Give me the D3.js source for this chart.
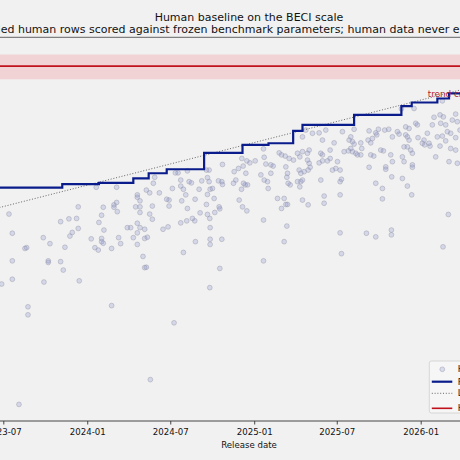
<!DOCTYPE html>
<html>
<head>
<meta charset="utf-8">
<script src="https://cdn.jsdelivr.net/npm/d3@7"></script>
<style>
  body { margin: 0; background: #f1f1f1; }
  svg { display: block; font-family: "DejaVu Sans", sans-serif; }
</style>
</head>
<body>
<svg class="chart" width="460" height="460"></svg>
<script>
// human rows: release date (decimal year) and BECI score
var humanYear = [
  2023.486,2023.530,2023.550,2023.550,2023.550,2023.590,2023.626,2023.636,2023.644,2023.644,
  2023.736,2023.740,2023.766,2023.766,2023.776,2023.840,2023.840,2023.856,2023.866,2023.890,
  2023.896,2023.910,2023.936,2023.946,2023.946,2023.952,2024.024,2024.046,2024.054,2024.066,
  2024.070,2024.086,2024.086,2024.086,2024.096,2024.096,2024.100,2024.146,2024.146,2024.160,
  2024.160,2024.176,2024.176,2024.180,2024.188,2024.200,2024.240,2024.260,2024.276,2024.290,
  2024.300,2024.300,2024.300,2024.300,2024.300,2024.316,2024.316,2024.316,2024.316,2024.334,
  2024.344,2024.344,2024.344,2024.354,2024.354,2024.360,2024.374,2024.374,2024.378,2024.390,
  2024.390,2024.396,2024.404,2024.432,
  2024.476,2024.490,2024.490,2024.510,2024.528,2024.544,2024.560,2024.560,2024.566,2024.576,
  2024.590,2024.600,2024.600,2024.610,2024.624,2024.630,2024.644,2024.646,2024.670,2024.676,
  2024.686,2024.714,2024.714,2024.720,2024.720,2024.720,2024.730,2024.730,2024.734,2024.736,
  2024.736,2024.750,2024.760,2024.764,2024.786,2024.790,2024.794,2024.806,2024.810,2024.810,
  2024.560,2024.596,2024.484,2024.454,2024.648,2024.736,2024.736,2024.806,2024.576,2024.794,
  2024.734,2024.520,
  2024.876,2024.880,2024.890,2024.906,2024.910,2024.924,2024.926,2024.930,2024.934,2024.936,
  2024.946,2024.950,2024.956,2024.956,2024.960,2024.974,2025.006,2025.040,2025.056,2025.056,
  2025.056,2025.060,2025.060,2025.070,2025.080,2025.084,2025.100,2025.100,2025.114,2025.140,
  2025.150,2025.164,2025.164,2025.180,2025.180,2025.186,2025.190,2025.190,2025.196,2025.196,
  2025.200,2025.200,2025.204,2025.210,2025.216,2025.236,2025.260,2025.260,2025.270,2025.274,
  2025.274,2025.280,2025.280,
  2025.290,2025.290,2025.290,2025.290,2025.300,2025.310,2025.320,2025.320,2025.324,2025.324,
  2025.330,2025.330,2025.336,2025.350,2025.390,2025.390,2025.400,2025.400,2025.410,2025.410,
  2025.410,2025.420,2025.420,2025.430,2025.440,2025.456,2025.456,2025.470,2025.480,2025.490,
  2025.500,2025.516,2025.516,2025.516,2025.516,2025.524,2025.524,2025.530,2025.540,2025.566,
  2025.570,2025.580,2025.580,2025.590,2025.590,2025.600,2025.600,2025.610,2025.620,2025.640,
  2025.640,2025.646,2025.674,2025.684,2025.690,2025.690,2025.700,2025.700,2025.710,2025.718,
  2025.730,2025.730,2025.730,2025.736,2025.746,
  2025.760,2025.776,2025.770,2025.770,2025.784,2025.808,2025.790,2025.790,2025.820,2025.824,
  2025.824,2025.826,2025.830,2025.830,2025.860,2025.870,2025.884,2025.890,2025.890,2025.900,
  2025.900,2025.910,2025.910,2025.920,2025.920,2025.920,2025.930,2025.930,2025.940,2025.946,
  2025.950,2025.950,2025.950,2025.960,2025.970,2025.980,2025.984,2026.010,2026.020,2026.024,
  2026.040,2026.050,2026.056,2026.070,2026.080,2026.090,2026.100,2026.116,2026.116,2026.120,
  2026.130,2026.130,2026.134,2026.136,2026.150,2026.150,2026.160,2026.166,2026.170,2026.180,
  2026.180,2026.190,2026.210,2026.210,2026.210,2026.220,2026.220,2026.236
];
var humanScore = [
  45.5,63.0,58.2,51.3,46.7,15.4,54.4,54.6,39.8,37.8,
  57.1,46.0,51.3,50.9,55.6,61.1,51.1,49.0,54.7,61.8,
  57.5,58.4,61.9,64.8,59.4,46.3,56.8,54.6,69.7,54.0,
  60.9,62.7,56.9,56.1,64.7,55.7,59.0,54.4,40.1,65.3,
  64.7,69.7,65.9,63.6,57.1,55.6,59.6,59.6,57.1,64.8,
  67.8,67.2,60.7,58.3,55.4,66.3,64.8,63.4,59.6,52.4,
  59.2,56.9,49.6,49.7,69.0,57.2,68.3,63.0,21.6,65.0,
  61.7,70.7,72.2,68.3,
  66.7,66.5,65.0,69.4,73.3,73.3,71.5,70.0,66.3,69.2,
  67.8,73.8,64.4,71.1,70.8,61.9,61.3,66.7,69.2,63.3,
  71.3,74.0,65.4,72.1,67.9,62.9,74.0,71.1,61.9,69.2,
  59.6,69.4,66.9,63.4,71.3,64.8,64.3,71.1,75.4,70.4,
  60.8,61.3,59.8,59.2,56.1,56.7,55.4,56.7,53.4,49.4,
  44.6,35.8,
  70.7,73.6,71.5,74.4,66.5,69.2,76.9,64.8,75.0,70.7,
  70.3,73.2,76.3,63.8,70.3,75.8,76.3,72.8,79.3,61.5,
  51.3,77.2,71.5,75.5,71.1,69.4,75.3,73.2,75.0,66.9,
  78.3,77.8,64.4,66.9,56.1,77.5,74.8,65.4,72.2,60.0,
  73.2,65.4,70.7,76.9,70.3,76.5,78.2,71.1,74.0,77.3,
  69.8,71.1,73.2,
  82.3,78.6,71.5,66.5,73.6,84.0,78.2,76.5,74.0,65.3,
  79.0,75.7,74.7,83.2,83.3,75.8,78.2,71.5,81.5,77.8,
  76.3,67.5,65.7,84.0,76.3,79.0,76.9,74.0,80.8,74.4,
  76.1,74.0,71.1,67.8,58.3,71.7,53.1,83.6,78.6,78.8,
  81.5,82.3,79.4,81.1,78.6,80.5,84.2,78.2,77.8,80.8,
  77.8,79.4,58.2,81.5,83.8,74.7,80.8,77.8,81.9,77.5,
  83.3,70.7,57.3,82.8,84.2,
  79.0,78.8,69.4,66.8,84.0,84.2,74.8,74.2,77.8,59.0,
  57.8,72.3,82.3,76.1,83.6,83.0,89.3,77.3,71.9,79.8,
  76.1,84.8,82.8,82.3,79.8,70.0,84.4,81.5,79.0,67.8,
  78.2,75.3,74.7,89.4,85.7,85.3,82.1,80.7,81.5,80.3,
  83.2,80.7,80.0,85.3,87.2,77.3,82.3,87.8,80.0,85.7,
  91.3,82.5,54.8,87.3,85.3,81.3,83.6,62.9,76.1,83.2,
  79.4,86.5,82.1,79.0,88.0,86.1,75.7,84.0
];

// frontier (best score to date), step after each date
var frontierYear  = [2023.30,2023.850,2024.070,2024.276,2024.368,2024.476,2024.700,2024.930,
                     2025.086,2025.234,2025.290,2025.600,2025.884,2025.946,2026.100,2026.170,2026.350];
var frontierScore = [69.6,70.5,70.8,71.9,73.2,74.2,78.3,80.3,
                     80.7,83.8,85.3,87.8,90.0,90.9,91.9,93.2,93.2];

// linear trend end points
var trendYear  = [2023.0, 2026.8];
var trendScore = [59.6, 100.0];

// human baseline and its band
var baseline = 100.0;
var baselineBand = [96.7, 102.9];

var tickMonths = ["2023-07","2024-01","2024-07","2025-01","2025-07","2026-01","2026-07"];
var legendLabels = ["Human rows", "Frontier (best to date)", "Linear trend", "Human baseline (median, IQR)"];

function yearToDate(y) {
  var yr = Math.floor(y);
  var a = Date.UTC(yr, 0, 1), b = Date.UTC(yr + 1, 0, 1);
  return new Date(a + (y - yr) * (b - a));
}

var svg = d3.select(".chart");
var W = 460;

var x = d3.scaleUtc()
          .domain([new Date(Date.UTC(2023, 6, 1)), new Date(Date.UTC(2026, 0, 1))])
          .range([3.3, 420.7]);
var y = d3.scaleLinear()
          .domain([11.25, 107.2])
          .range([421, 37.3]);

// titles
svg.append("text")
   .attr("x", 249).attr("y", 20.7)
   .attr("text-anchor", "middle")
   .style("font-size", "11px").style("fill", "#111")
   .text("Human baseline on the BECI scale");
svg.append("text")
   .attr("x", 251).attr("y", 33)
   .attr("text-anchor", "middle")
   .style("font-size", "11px").style("fill", "#111")
   .text("Pooled human rows scored against frozen benchmark parameters; human data never enters the fit");

// baseline band and line
svg.append("rect")
   .attr("x", -10).attr("width", W + 20)
   .attr("y", y(baselineBand[1]))
   .attr("height", y(baselineBand[0]) - y(baselineBand[1]))
   .attr("fill", "#f1d3d5");
svg.append("line")
   .attr("x1", -10).attr("x2", W + 10)
   .attr("y1", y(baseline)).attr("y2", y(baseline))
   .attr("stroke", "#c0121c").attr("stroke-width", 1.6);

// human rows
svg.append("g").selectAll("circle")
   .data(humanYear)
   .enter().append("circle")
     .attr("cx", function(d){ return x(yearToDate(d)); })
     .attr("cy", function(d, i){ return y(humanScore[i]); })
     .attr("r", 2.4)
     .attr("fill", "#6475c8").attr("fill-opacity", 0.2)
     .attr("stroke", "#9a9aaa").attr("stroke-opacity", 0.6).attr("stroke-width", 0.8);

// trend
svg.append("line")
   .attr("x1", x(yearToDate(trendYear[0]))).attr("y1", y(trendScore[0]))
   .attr("x2", x(yearToDate(trendYear[1]))).attr("y2", y(trendScore[1]))
   .attr("stroke", "#666").attr("stroke-width", 1)
   .attr("stroke-dasharray", "1,1.8");

// frontier
var step = d3.line()
             .x(function(d){ return x(yearToDate(d)); })
             .y(function(d, i){ return y(frontierScore[i]); })
             .curve(d3.curveStepAfter);
svg.append("path")
   .attr("d", step(frontierYear))
   .attr("fill", "none")
   .attr("stroke", "#0a1c8c").attr("stroke-width", 2.2);

svg.append("text")
   .attr("x", x(yearToDate(2026.042))).attr("y", y(92.3))
   .style("font-size", "8.8px").style("fill", "#b0242a")
   .text("trend crosses human baseline \u2248 2026-10");

// spines
svg.append("line").attr("x1", -5).attr("x2", W + 5).attr("y1", 37.3).attr("y2", 37.3)
   .attr("stroke", "#555").attr("stroke-width", 0.9);
svg.append("line").attr("x1", -5).attr("x2", W + 5).attr("y1", 421).attr("y2", 421)
   .attr("stroke", "#333").attr("stroke-width", 0.9);

// x axis
var parseMonth = d3.utcParse("%Y-%m");
var xAxis = d3.axisBottom(x)
              .tickValues(tickMonths.map(parseMonth))
              .tickFormat(d3.utcFormat("%Y-%m"))
              .tickSize(3.5).tickPadding(4);
var gx = svg.append("g").attr("transform", "translate(0,421)").call(xAxis);
gx.select(".domain").remove();
gx.selectAll("line").attr("stroke", "#333").attr("stroke-width", 0.9);
gx.selectAll("text").style("font-size", "8.6px").style("fill", "#111")
  .style("font-family", "DejaVu Sans, sans-serif");

svg.append("text")
   .attr("x", 249).attr("y", 447.5)
   .attr("text-anchor", "middle")
   .style("font-size", "8.6px").style("fill", "#111")
   .text("Release date");

// legend
var lg = svg.append("g").attr("transform", "translate(429.3,361)");
lg.append("rect")
  .attr("width", 160).attr("height", 52).attr("rx", 2)
  .attr("fill", "#f6f6f6").attr("stroke", "#cfcfcf").attr("stroke-width", 0.8);
var rowY = [8.3, 20.7, 32.3, 47.3];
lg.append("circle").attr("cx", 13).attr("cy", rowY[0]).attr("r", 2.4)
  .attr("fill", "#6475c8").attr("fill-opacity", 0.2)
  .attr("stroke", "#9a9aaa").attr("stroke-opacity", 0.6).attr("stroke-width", 0.8);
lg.append("line").attr("x1", 2.5).attr("x2", 23).attr("y1", rowY[1]).attr("y2", rowY[1])
  .attr("stroke", "#0a1c8c").attr("stroke-width", 2.2);
lg.append("line").attr("x1", 2.5).attr("x2", 23).attr("y1", rowY[2]).attr("y2", rowY[2])
  .attr("stroke", "#666").attr("stroke-width", 1).attr("stroke-dasharray", "1,1.8");
lg.append("line").attr("x1", 2.5).attr("x2", 23).attr("y1", rowY[3]).attr("y2", rowY[3])
  .attr("stroke", "#c0121c").attr("stroke-width", 1.6);
lg.selectAll("text.lab")
  .data(legendLabels)
  .enter().append("text")
    .attr("class", "lab")
    .attr("x", 28.5)
    .attr("y", function(d, i){ return rowY[i] + 3; })
    .style("font-size", "8.6px").style("fill", "#111")
    .text(function(d){ return d; });
</script>
</body>
</html>
